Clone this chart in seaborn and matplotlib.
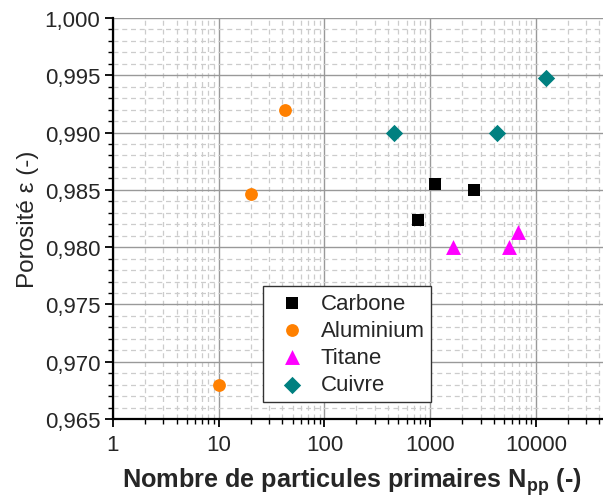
import matplotlib
matplotlib.use("Agg")
import matplotlib.pyplot as plt
import matplotlib.ticker as mticker
import matplotlib.transforms as mtransforms
import numpy as np
import pandas as pd
import seaborn as sns

# Porosity of aggregates versus number of primary particles
carbone_n = [774, 1120, 2600]
carbone_eps = [0.9824, 0.9855, 0.9850]
alu_n = [10.1, 20.2, 42.4]
alu_eps = [0.9680, 0.9846, 0.9920]
titane_n = [1660, 5610, 6830]
titane_eps = [0.9800, 0.9800, 0.9813]
cuivre_n = [459, 4325, 12500]
cuivre_eps = [0.9900, 0.9900, 0.9948]

materials = ["Carbone", "Aluminium", "Titane", "Cuivre"]
colors = {"Carbone": "#000000", "Aluminium": "#FF8000",
          "Titane": "#FF00FF", "Cuivre": "#008080"}
markers = {"Carbone": "s", "Aluminium": "o", "Titane": "^", "Cuivre": "D"}
sizes = {"Carbone": 70, "Aluminium": 85, "Titane": 115, "Cuivre": 78}

x_ticks = [1, 10, 100, 1000, 10000]
y_ticks = [0.965, 0.970, 0.975, 0.980, 0.985, 0.990, 0.995, 1.000]

df = pd.DataFrame({
    "N": carbone_n + alu_n + titane_n + cuivre_n,
    "eps": carbone_eps + alu_eps + titane_eps + cuivre_eps,
    "mat": (["Carbone"] * 3 + ["Aluminium"] * 3 + ["Titane"] * 3 + ["Cuivre"] * 3),
})

sns.set_theme(style="white")
plt.rcParams["font.family"] = ["Liberation Sans", "DejaVu Sans"]
plt.rcParams["mathtext.fontset"] = "custom"
plt.rcParams["mathtext.rm"] = "Liberation Sans"
plt.rcParams["mathtext.bf"] = "Liberation Sans:bold"
plt.rcParams["mathtext.it"] = "Liberation Sans:italic"

fig = plt.figure(figsize=(6.03, 5.02), dpi=100)
ax = fig.add_axes([113 / 603, 1 - 420 / 502, 1 - 113 / 603, (420 - 19) / 502])

for m in materials:
    sub = df[df["mat"] == m]
    sns.scatterplot(data=sub, x="N", y="eps", ax=ax, color=colors[m],
                    marker=markers[m], s=sizes[m], linewidth=0, label=m,
                    zorder=5, clip_on=False)

ax.set_xscale("log")
ax.set_xlim(1, 10 ** ((603 - 113) / 105.7))
ax.set_ylim(0.965, 1.000)

ax.xaxis.set_major_locator(mticker.FixedLocator(x_ticks))
ax.xaxis.set_major_formatter(mticker.FuncFormatter(lambda v, p: f"{v:.0f}"))
ax.xaxis.set_minor_locator(mticker.LogLocator(base=10, subs=np.arange(2, 10)))
ax.xaxis.set_minor_formatter(mticker.NullFormatter())
ax.yaxis.set_major_locator(mticker.FixedLocator(y_ticks))
ax.yaxis.set_minor_locator(mticker.MultipleLocator(0.001))
ax.yaxis.set_major_formatter(
    mticker.FuncFormatter(lambda v, p: f"{v:.3f}".replace(".", ",")))

ax.grid(which="major", color="#999999", linestyle="-", linewidth=1.0)
ax.grid(which="minor", color="#cccccc", linestyle=(0, (4, 3)), linewidth=0.9)
ax.set_axisbelow(True)

for side in ["top", "right"]:
    ax.spines[side].set_visible(False)
for side in ["left", "bottom"]:
    ax.spines[side].set_color("black")
    ax.spines[side].set_linewidth(1.6)

ax.tick_params(which="major", direction="out", length=6, width=1.3,
               labelsize=16, color="black", left=True, bottom=True)
ax.tick_params(axis="y", which="major", pad=3)
ax.tick_params(axis="x", which="major", pad=5)
ax.tick_params(which="minor", direction="out", length=3.5, width=1.0,
               color="black", left=True, bottom=True)

ax.set_xlabel(r"Nombre de particules primaires $\mathbf{N_{pp}}$ (-)",
              fontsize=18.2, fontweight="bold")
ax.xaxis.set_label_coords(
    0.488, 1 - 466 / 502,
    transform=mtransforms.blended_transform_factory(ax.transAxes, fig.transFigure))
ax.xaxis.label.set_va("top")

ax.set_ylabel("Porosité ε (-)", fontsize=17.5)
ax.yaxis.set_label_coords(
    39 / 603, 0.5,
    transform=mtransforms.blended_transform_factory(fig.transFigure, ax.transAxes))
ax.yaxis.label.set_va("bottom")

leg = ax.legend(loc="upper left", bbox_to_anchor=(263 / 603, 1 - 287 / 502),
                bbox_transform=fig.transFigure, fontsize=16, frameon=True,
                fancybox=False, edgecolor="#333333", framealpha=1,
                handletextpad=0.3, borderpad=0.3, labelspacing=0.28,
                handlelength=2.0, borderaxespad=0)
leg.get_frame().set_linewidth(1.0)

fig.savefig("out.png", dpi=100)
